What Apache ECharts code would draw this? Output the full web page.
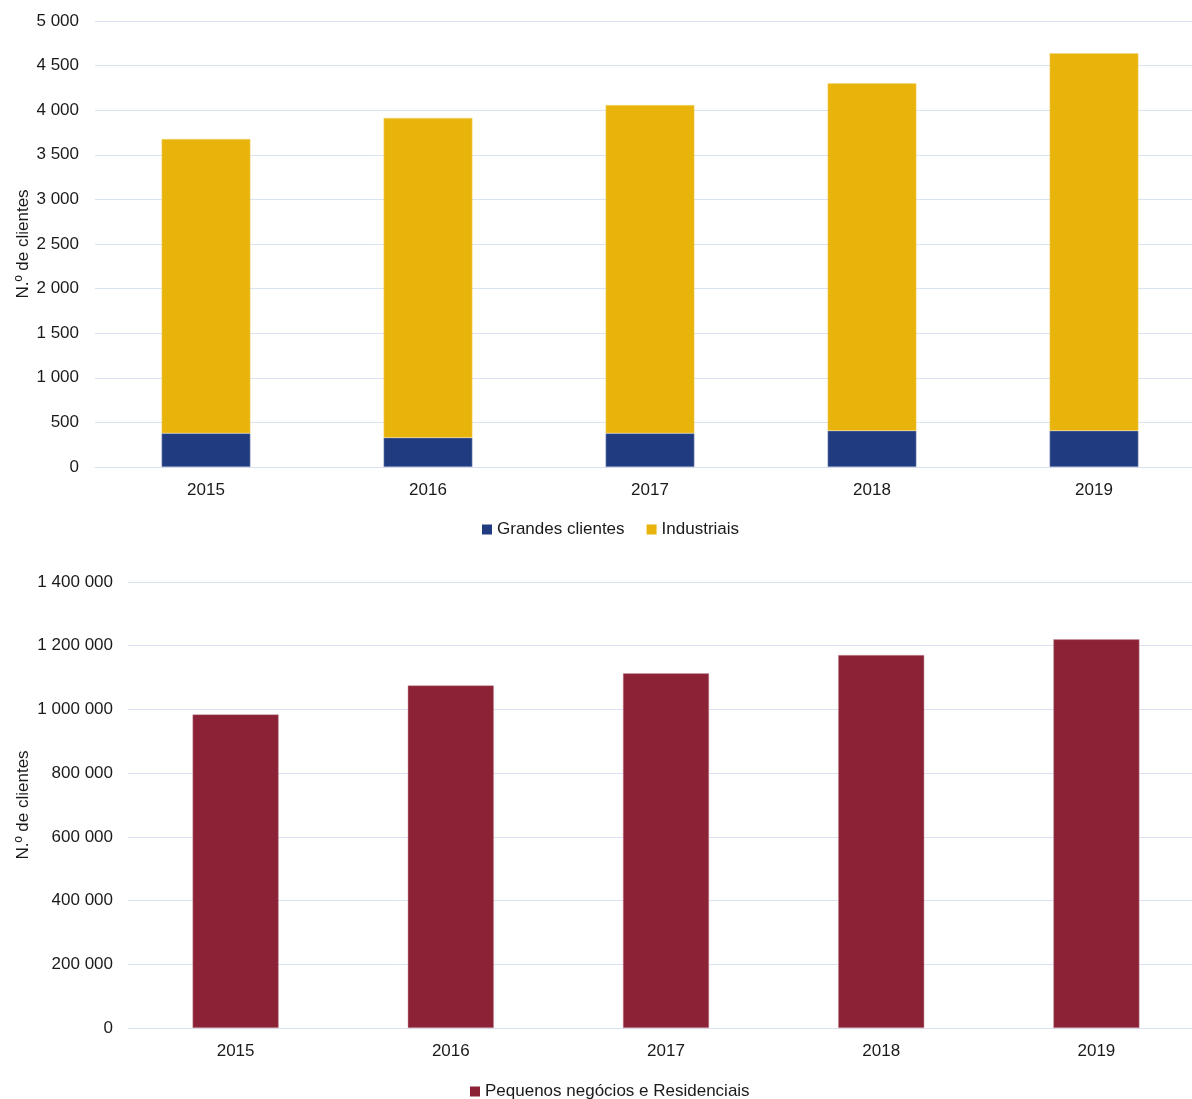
<!DOCTYPE html>
<html>
<head>
<meta charset="utf-8">
<script src="https://cdn.jsdelivr.net/npm/echarts@6/dist/echarts.min.js"></script>
<style>
  html, body { margin: 0; padding: 0; background: #fff; }
  #chart { width: 1192px; height: 1099px; }
</style>
</head>
<body>
<div id="chart"></div>
<script>
// data
const years = ['2015', '2016', '2017', '2018', '2019'];
const grandesClientes = [378, 329, 378, 407, 407];
const industriais = [3299, 3584, 3680, 3894, 4231];
const pequenosResidenciais = [984400, 1075500, 1113200, 1170700, 1220000];

const font = 'Liberation Sans, Arial, sans-serif';
const txt = '#1a1a1a';
const gridLine = '#d9e1f2';

// space as thousands separator
function fmt(v) {
  return String(v).replace(/\B(?=(\d{3})+(?!\d))/g, ' ');
}

const chart = echarts.init(document.getElementById('chart'));

const option = {
  animation: false,
  textStyle: { fontFamily: font },
  grid: [
    { left: 95, top: 21, width: 1110, height: 446, outerBoundsMode: 'none' },
    { left: 128, top: 582, width: 1076, height: 446, outerBoundsMode: 'none' }
  ],
  legend: [
    {
      data: ['Grandes clientes', 'Industriais'],
      left: 477, top: 516,
      itemWidth: 10, itemHeight: 10, itemGap: 22,
      icon: 'rect',
      itemStyle: { borderWidth: 0 },
      textStyle: { fontSize: 17, color: txt, fontFamily: font }
    },
    {
      data: ['Pequenos negócios e Residenciais'],
      left: 465, top: 1078,
      itemWidth: 10, itemHeight: 10,
      icon: 'rect',
      itemStyle: { borderWidth: 0 },
      textStyle: { fontSize: 17, color: txt, fontFamily: font }
    }
  ],
  xAxis: [
    {
      gridIndex: 0, type: 'category', data: years,
      axisLine: { lineStyle: { color: gridLine, width: 1 } },
      axisTick: { show: false },
      axisLabel: { color: txt, fontSize: 17, margin: 15, fontFamily: font }
    },
    {
      gridIndex: 1, type: 'category', data: years,
      axisLine: { lineStyle: { color: gridLine, width: 1 } },
      axisTick: { show: false },
      axisLabel: { color: txt, fontSize: 17, margin: 15, fontFamily: font }
    }
  ],
  yAxis: [
    {
      gridIndex: 0, type: 'value', min: 0, max: 5000, interval: 500,
      name: 'N.º de clientes', nameLocation: 'middle', nameGap: 63,
      nameMoveOverlap: false,
      nameTextStyle: { color: txt, fontSize: 17, fontFamily: font },
      axisLine: { show: false }, axisTick: { show: false },
      splitLine: { lineStyle: { color: gridLine, width: 1 } },
      axisLabel: { color: txt, fontSize: 17, margin: 16, fontFamily: font, formatter: fmt }
    },
    {
      gridIndex: 1, type: 'value', min: 0, max: 1400000, interval: 200000,
      name: 'N.º de clientes', nameLocation: 'middle', nameGap: 96,
      nameMoveOverlap: false,
      nameTextStyle: { color: txt, fontSize: 17, fontFamily: font },
      axisLine: { show: false }, axisTick: { show: false },
      splitLine: { lineStyle: { color: gridLine, width: 1 } },
      axisLabel: { color: txt, fontSize: 17, margin: 15, fontFamily: font, formatter: fmt }
    }
  ],
  series: [
    {
      name: 'Grandes clientes', type: 'bar', stack: 'top',
      xAxisIndex: 0, yAxisIndex: 0, barWidth: '40%',
      data: grandesClientes,
      itemStyle: { color: '#213b80', borderColor: '#9aa6c8', borderWidth: 0.5 }
    },
    {
      name: 'Industriais', type: 'bar', stack: 'top',
      xAxisIndex: 0, yAxisIndex: 0, barWidth: '40%',
      data: industriais,
      itemStyle: { color: '#e8b30a', borderColor: '#f3d77a', borderWidth: 0.5 }
    },
    {
      name: 'Pequenos negócios e Residenciais', type: 'bar',
      xAxisIndex: 1, yAxisIndex: 1, barWidth: '40%',
      data: pequenosResidenciais,
      itemStyle: { color: '#8b2235', borderColor: '#c99aa3', borderWidth: 0.5 }
    }
  ]
};

chart.setOption(option);
</script>
</body>
</html>
